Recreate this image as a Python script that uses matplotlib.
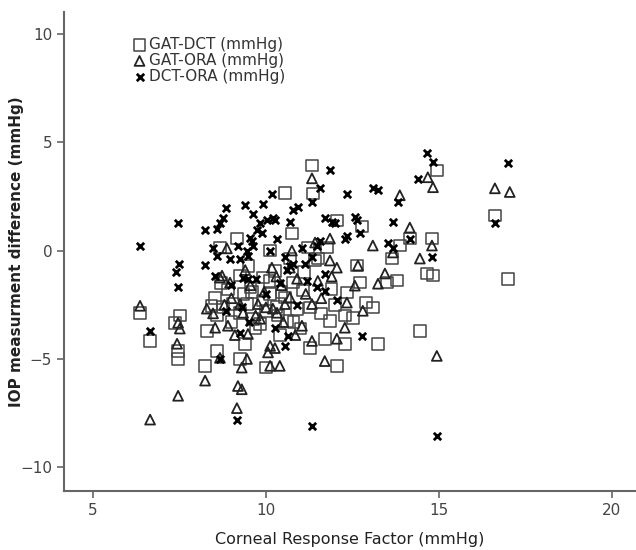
import matplotlib
matplotlib.use('Agg')
import matplotlib.pyplot as plt

# GAT-DCT (kwadraty)
crf_gd = [6.36, 6.65, 7.51, 7.37, 7.46, 7.46, 8.29, 8.24, 8.58, 9.25, 9.39, 10.0, 8.53, 8.43,
          8.58, 9.05, 9.45, 9.25, 9.63, 9.83, 10.0, 10.35, 10.6, 10.12, 10.55, 10.78, 11.07,
          11.27, 11.27, 11.33, 11.36, 10.55, 10.75, 9.16, 8.67, 10.12, 11.22, 11.42, 10.26,
          10.69, 9.25, 9.91, 12.05, 12.77, 11.76, 11.5, 13.87, 14.16, 14.8, 14.94, 16.62,
          12.63, 13.64, 14.65, 14.83, 16.99, 13.79, 13.5, 12.34, 12.72, 13.09, 12.51, 12.28,
          11.85, 11.7, 12.28, 13.24, 12.05, 14.45, 11.9, 8.9, 9.6, 9.0, 9.7, 10.4, 10.9,
          11.6, 9.5, 10.1, 11.0, 8.75, 9.9, 8.7, 10.3, 10.8, 11.1, 12.0, 12.9, 10.45, 9.35,
          9.55]
diff_gd = [-2.87, -4.17, -3.0, -3.33, -4.63, -5.0, -3.7, -5.32, -4.63, -5.0, -4.3, -5.4, -2.2,
           -2.55, -3.0, -2.47, -2.47, -2.87, -3.15, -3.4, -2.78, -3.0, -3.24, -2.0, -2.16,
           -1.48, -1.85, -2.62, -4.5, 3.93, 2.63, 2.65, 0.78, 0.55, 0.14, 0.0, 0.14, -0.46,
           -0.93, -0.37, -1.16, -1.25, 1.39, 1.11, 0.14, -0.37, 0.23, 0.55, 0.55, 3.7, 1.62,
           -0.69, -0.37, -1.06, -1.16, -1.3, -1.39, -1.48, -1.94, -1.48, -2.62, -3.1, -3.0,
           -3.24, -4.07, -4.3, -4.3, -5.32, -3.7, -1.76, -1.8, -1.9, -3.3, -3.6, -3.9, -2.7,
           -2.9, -0.7, -1.4, -3.6, -2.6, -2.3, -1.5, -2.6, -3.3, -1.0, -2.5, -2.4, -1.9,
           -2.0, -1.7]

# GAT-ORA (trojkaty)
crf_go = [6.36, 6.65, 7.46, 7.43, 7.51, 7.46, 8.24, 9.16, 9.19, 9.3, 9.3, 9.45, 8.67, 10.12,
          10.4, 10.06, 10.12, 10.26, 8.29, 8.47, 8.53, 8.9, 9.25, 9.34, 9.77, 9.48, 9.83,
          10.0, 10.2, 10.32, 10.55, 10.69, 11.04, 11.33, 11.33, 8.73, 8.96, 11.33, 8.87,
          10.75, 11.42, 10.17, 10.69, 8.67, 14.68, 14.83, 16.62, 17.05, 13.87, 14.16, 13.09,
          11.85, 13.67, 14.8, 14.45, 11.85, 12.05, 12.66, 13.44, 13.24, 12.57, 12.34, 12.8,
          12.28, 12.05, 11.7, 14.94, 9.0, 9.55, 9.95, 10.45, 10.9, 11.15, 11.6, 9.7, 10.5,
          10.85, 9.1, 8.8, 11.5, 11.9, 9.4, 10.3]
diff_go = [-2.55, -7.8, -6.7, -4.3, -3.6, -3.33, -6.0, -7.27, -6.25, -6.4, -5.4, -5.0, -4.95,
           -5.32, -5.32, -4.7, -4.4, -4.5, -2.68, -2.9, -3.56, -3.47, -2.47, -2.87, -2.47,
           -3.85, -3.15, -2.62, -2.68, -2.87, -2.47, -2.16, -3.47, -4.17, -2.47, -1.16,
           -1.48, 3.33, 0.1, 0.0, 0.37, -0.79, -0.79, -1.25, 3.38, 2.92, 2.87, 2.7, 2.55,
           1.06, 0.23, 0.55, -0.09, 0.23, -0.37, -0.46, -0.79, -0.69, -1.06, -1.53, -1.62,
           -2.4, -2.78, -3.56, -4.07, -5.1, -4.86, -2.2, -1.6, -1.9, -1.6, -1.3, -2.0, -2.2,
           -3.0, -3.3, -3.9, -3.9, -2.5, -1.4, -1.2, -0.9, -1.2]

# DCT-ORA (krzyzyki)
crf_do = [6.36, 7.46, 7.5, 7.4, 7.46, 6.65, 8.24, 8.84, 8.76, 8.67, 8.58, 9.39, 9.62, 9.91,
          10.17, 10.69, 10.78, 10.93, 11.33, 9.83, 10.03, 10.2, 9.74, 9.54, 10.32, 9.62, 8.47,
          9.19, 9.45, 8.58, 8.96, 9.25, 9.48, 8.24, 10.12, 10.55, 10.78, 11.04, 11.13, 11.33,
          8.53, 9.34, 9.48, 10.7, 9.6, 9.9, 10.26, 11.85, 11.56, 12.34, 13.09, 13.24, 13.82,
          11.7, 11.9, 12.0, 12.57, 12.63, 12.34, 12.28, 12.72, 13.67, 11.56, 11.47, 13.53,
          13.67, 11.7, 11.47, 11.7, 14.65, 14.83, 14.39, 16.99, 16.62, 14.16, 14.8, 8.67,
          9.16, 9.25, 10.26, 10.65, 10.55, 12.05, 12.77, 11.33, 14.94, 9.0, 9.7, 10.0, 10.4,
          10.9, 9.3, 10.6, 11.2, 9.5, 8.85]
diff_do = [0.23, 1.25, -0.6, -1.0, -1.7, -3.7, 0.93, 1.94, 1.5, 1.25, 1.0, 2.08, 1.7, 2.17,
           2.63, 1.3, 1.85, 2.0, 2.23, 1.25, 1.39, 1.48, 0.93, 0.6, 0.55, 0.23, 0.1, 0.23, 0.0,
           -0.23, -0.37, -0.37, -0.23, -0.69, 0.0, -0.3, -0.6, 0.1, -0.6, -0.3, -1.16, -1.25,
           -1.3, -0.7, 0.46, 0.83, 1.39, 3.7, 2.87, 2.63, 2.87, 2.78, 2.23, 1.48, 1.3, 1.25,
           1.53, 1.39, 0.69, 0.55, 0.79, 1.3, 0.46, 0.23, 0.37, 0.14, -1.06, -1.7, -1.85,
           4.49, 4.07, 3.29, 4.03, 1.25, 0.55, -0.3, -5.0, -7.8, -3.8, -3.56, -3.94, -4.4,
           -2.3, -3.94, -8.1, -8.56, -1.6, -1.3, -2.0, -1.5, -2.5, -2.6, -0.9, -1.4, -3.3,
           -2.8]

plt.rcParams['font.family'] = ['DejaVu Sans']

fig = plt.figure(figsize=(6.36, 5.5), dpi=100)
ax = fig.add_axes([0.1006, 0.107, 0.8994, 0.871])

ax.scatter(crf_gd, diff_gd, marker='s', s=70, facecolors='none', edgecolors='#444444',
           linewidths=1.1, label='GAT-DCT (mmHg)')
ax.scatter(crf_go, diff_go, marker='^', s=50, facecolors='none', edgecolors='#222222',
           linewidths=1.3, label='GAT-ORA (mmHg)')
ax.scatter(crf_do, diff_do, marker='x', s=28, color='black', linewidths=2.0,
           label='DCT-ORA (mmHg)')

ax.set_xlim(4.16, 20.7)
ax.set_ylim(-11.1, 11.0)
ax.set_xticks([5, 10, 15, 20])
ax.set_yticks([-10, -5, 0, 5, 10])

for s in ['top', 'right']:
    ax.spines[s].set_visible(False)
for s in ['left', 'bottom']:
    ax.spines[s].set_color('#666666')
    ax.spines[s].set_linewidth(1.5)
ax.tick_params(direction='out', length=5, width=1.2, color='#666666',
               labelcolor='#444444', labelsize=11)

ax.set_xlabel('Corneal Response Factor (mmHg)', fontsize=11.5, color='#222222', labelpad=10)
ax.set_ylabel('IOP measurment difference (mmHg)', fontsize=11, color='#222222',
              fontweight='bold', labelpad=-3)

ax.legend(loc='upper left', bbox_to_anchor=(0.1, 0.97), frameon=False, fontsize=11,
          labelspacing=0.05, handletextpad=0.1, handlelength=1.0, borderpad=0.2,
          labelcolor='#333333')

plt.savefig('out.png', dpi=100)
